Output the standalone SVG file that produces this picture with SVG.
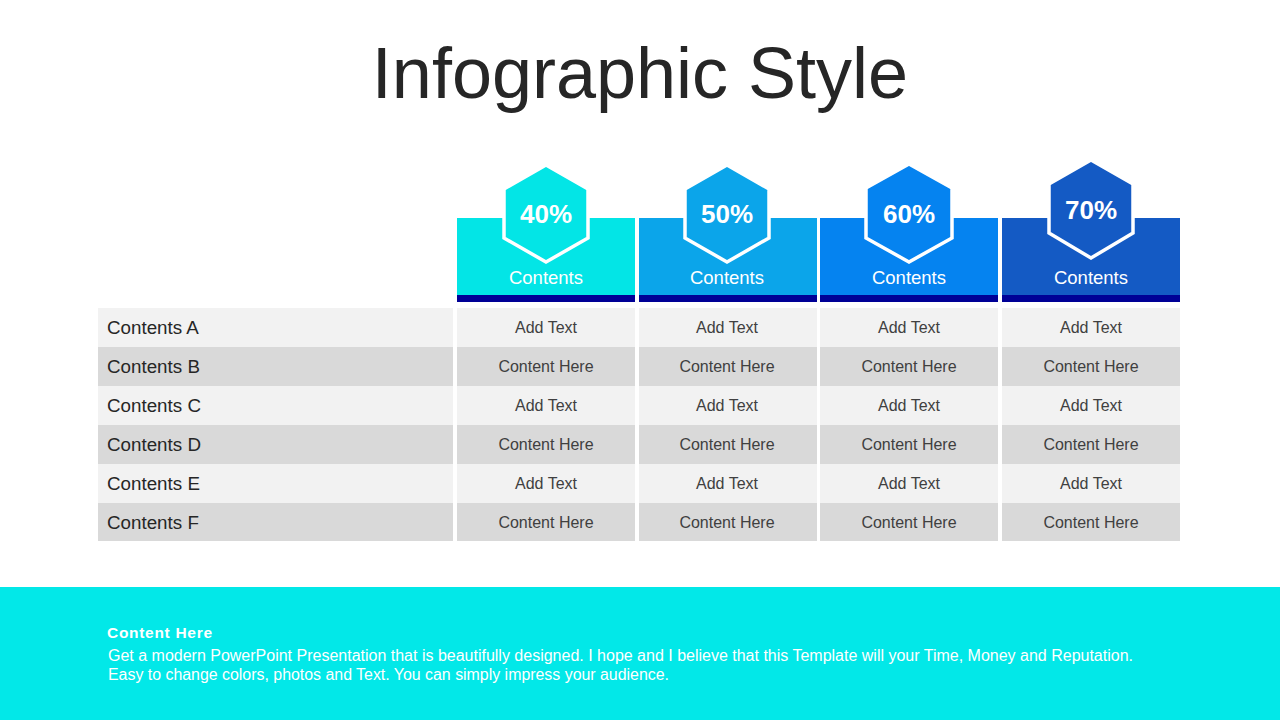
<svg xmlns="http://www.w3.org/2000/svg" width="1280" height="720" viewBox="0 0 1280 720">
<style>
.t{font-family:"Liberation Sans",Arial,sans-serif}
.light{fill:#f2f2f2}
.dark{fill:#d9d9d9}
.lbl{font-family:"Liberation Sans",Arial,sans-serif;font-size:18.8px;fill:#262626}
.cell{font-family:"Liberation Sans",Arial,sans-serif;font-size:16px;fill:#404040;text-anchor:middle}
.pct{font-family:"Liberation Sans",Arial,sans-serif;font-size:26px;font-weight:bold;fill:#fff;text-anchor:middle}
.hd{font-family:"Liberation Sans",Arial,sans-serif;font-size:18.5px;fill:#fff;text-anchor:middle}
.hex{stroke:#fff;stroke-width:3.5;stroke-linejoin:miter}
.bar{fill:#000096}
</style>
<rect width="1280" height="720" fill="#fff"/>
<text class="t" x="640" y="98" font-size="72" fill="#262626" text-anchor="middle">Infographic Style</text>

<g id="col1">
<rect x="457" y="218" width="178" height="77" fill="#03e5e6"/>
<rect class="bar" x="457" y="295" width="178" height="7"/>
<polygon class="hex" fill="#03e5e6" points="546,165 588,189 588,238 546,262 504,238 504,189"/>
<text class="pct" x="546" y="223">40%</text>
<text class="hd" x="546" y="284">Contents</text>
</g>
<g id="col2">
<rect x="639" y="218" width="178" height="77" fill="#0ba5ea"/>
<rect class="bar" x="639" y="295" width="178" height="7"/>
<polygon class="hex" fill="#0ba5ea" points="727,165 769,189 769,238 727,262 685,238 685,189"/>
<text class="pct" x="727" y="223">50%</text>
<text class="hd" x="727" y="284">Contents</text>
</g>
<g id="col3">
<rect x="820" y="218" width="178" height="77" fill="#0583f0"/>
<rect class="bar" x="820" y="295" width="178" height="7"/>
<polygon class="hex" fill="#0583f0" points="909,164 952,188 952,238 909,262 866,238 866,188"/>
<text class="pct" x="909" y="223">60%</text>
<text class="hd" x="909" y="284">Contents</text>
</g>
<g id="col4">
<rect x="1002" y="218" width="178" height="77" fill="#145ac4"/>
<rect class="bar" x="1002" y="295" width="178" height="7"/>
<polygon class="hex" fill="#145ac4" points="1091,160 1133,184 1133,233 1091,258 1049,233 1049,184"/>
<text class="pct" x="1091" y="219">70%</text>
<text class="hd" x="1091" y="284">Contents</text>
</g>

<g id="table">
<g id="rowA">
<rect class="light" x="98" y="308" width="355" height="39"/>
<rect class="light" x="457" y="308" width="178" height="39"/>
<rect class="light" x="639" y="308" width="178" height="39"/>
<rect class="light" x="820" y="308" width="178" height="39"/>
<rect class="light" x="1002" y="308" width="178" height="39"/>
<text class="lbl" x="107" y="334">Contents A</text>
<text class="cell" x="546" y="333">Add Text</text>
<text class="cell" x="727" y="333">Add Text</text>
<text class="cell" x="909" y="333">Add Text</text>
<text class="cell" x="1091" y="333">Add Text</text>
</g>
<g id="rowB">
<rect class="dark" x="98" y="347" width="355" height="39"/>
<rect class="dark" x="457" y="347" width="178" height="39"/>
<rect class="dark" x="639" y="347" width="178" height="39"/>
<rect class="dark" x="820" y="347" width="178" height="39"/>
<rect class="dark" x="1002" y="347" width="178" height="39"/>
<text class="lbl" x="107" y="373">Contents B</text>
<text class="cell" x="546" y="372">Content Here</text>
<text class="cell" x="727" y="372">Content Here</text>
<text class="cell" x="909" y="372">Content Here</text>
<text class="cell" x="1091" y="372">Content Here</text>
</g>
<g id="rowC">
<rect class="light" x="98" y="386" width="355" height="39"/>
<rect class="light" x="457" y="386" width="178" height="39"/>
<rect class="light" x="639" y="386" width="178" height="39"/>
<rect class="light" x="820" y="386" width="178" height="39"/>
<rect class="light" x="1002" y="386" width="178" height="39"/>
<text class="lbl" x="107" y="412">Contents C</text>
<text class="cell" x="546" y="411">Add Text</text>
<text class="cell" x="727" y="411">Add Text</text>
<text class="cell" x="909" y="411">Add Text</text>
<text class="cell" x="1091" y="411">Add Text</text>
</g>
<g id="rowD">
<rect class="dark" x="98" y="425" width="355" height="39"/>
<rect class="dark" x="457" y="425" width="178" height="39"/>
<rect class="dark" x="639" y="425" width="178" height="39"/>
<rect class="dark" x="820" y="425" width="178" height="39"/>
<rect class="dark" x="1002" y="425" width="178" height="39"/>
<text class="lbl" x="107" y="451">Contents D</text>
<text class="cell" x="546" y="450">Content Here</text>
<text class="cell" x="727" y="450">Content Here</text>
<text class="cell" x="909" y="450">Content Here</text>
<text class="cell" x="1091" y="450">Content Here</text>
</g>
<g id="rowE">
<rect class="light" x="98" y="464" width="355" height="39"/>
<rect class="light" x="457" y="464" width="178" height="39"/>
<rect class="light" x="639" y="464" width="178" height="39"/>
<rect class="light" x="820" y="464" width="178" height="39"/>
<rect class="light" x="1002" y="464" width="178" height="39"/>
<text class="lbl" x="107" y="490">Contents E</text>
<text class="cell" x="546" y="489">Add Text</text>
<text class="cell" x="727" y="489">Add Text</text>
<text class="cell" x="909" y="489">Add Text</text>
<text class="cell" x="1091" y="489">Add Text</text>
</g>
<g id="rowF">
<rect class="dark" x="98" y="503" width="355" height="38"/>
<rect class="dark" x="457" y="503" width="178" height="38"/>
<rect class="dark" x="639" y="503" width="178" height="38"/>
<rect class="dark" x="820" y="503" width="178" height="38"/>
<rect class="dark" x="1002" y="503" width="178" height="38"/>
<text class="lbl" x="107" y="529">Contents F</text>
<text class="cell" x="546" y="528">Content Here</text>
<text class="cell" x="727" y="528">Content Here</text>
<text class="cell" x="909" y="528">Content Here</text>
<text class="cell" x="1091" y="528">Content Here</text>
</g>
</g>

<g id="footer">
<rect x="0" y="587" width="1280" height="133" fill="#02e8e8"/>
<text class="t" x="107" y="638" font-size="15.5" font-weight="bold" fill="#fff" textLength="105" lengthAdjust="spacing">Content  Here</text>
<text class="t" x="108" y="661" font-size="16" fill="#fff" textLength="1025" lengthAdjust="spacingAndGlyphs">Get a modern PowerPoint  Presentation that is beautifully  designed. I hope and I believe that this Template  will your Time, Money  and Reputation.</text>
<text class="t" x="108" y="680" font-size="16" fill="#fff" textLength="561" lengthAdjust="spacingAndGlyphs">Easy to change colors, photos and Text.  You  can simply impress your audience.</text>
</g>
<g id="connectors"/>
</svg>
